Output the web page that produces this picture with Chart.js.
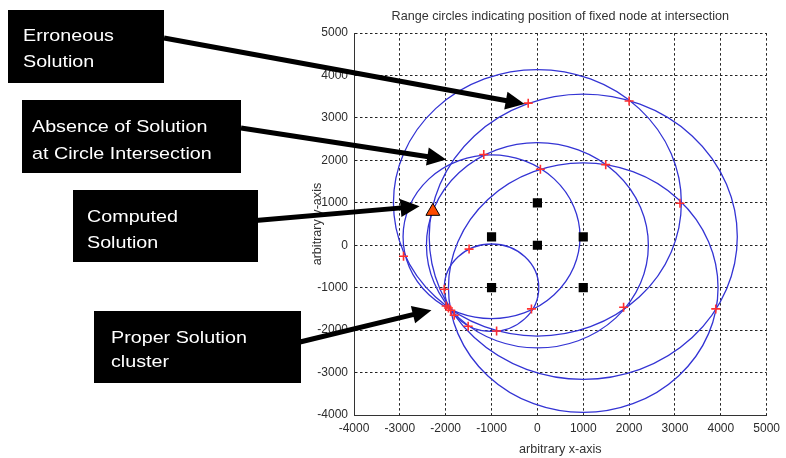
<!DOCTYPE html>
<html>
<head>
<meta charset="utf-8">
<script src="https://cdn.jsdelivr.net/npm/chart.js@4.4.1/dist/chart.umd.min.js"></script>
<style>
  html, body { margin: 0; padding: 0; background: #fff; }
</style>
</head>
<body>
<canvas id="chart" width="786" height="458"></canvas>
<script>
// fixed nodes (black squares) and the range measured from each of them
const anchorX = [0, -1000, 1000, 0, -1000, 1000];
const anchorY = [1000, 200, 200, 0, -1000, -1000];
const rangeR = [3140, 1930, 3360, 2420, 1030, 2940];

// circle intersections (red +)
const crossX = [-200, 2000, -1170, 65, 1490, 3110, -2920, -1490, -2030,
  -1990, -1940, -1890, -1815, -1510, -890, -130, 1880, 3890];
const crossY = [3350, 3400, 2140, 1790, 1900, 990, -260, -90, -1035,
  -1430, -1480, -1530, -1650, -1910, -2020, -1500, -1460, -1500];

// computed solution (orange triangle)
const solvedX = [-2280];
const solvedY = [800];

const tickValues = [-4000, -3000, -2000, -1000, 0, 1000, 2000, 3000, 4000, 5000];

// callouts: arrow tips are given in data units
const noteLines = [
  ['Erroneous', 'Solution'],
  ['Absence of Solution', 'at Circle Intersection'],
  ['Computed', 'Solution'],
  ['Proper Solution', 'cluster'],
];
const noteTipX = [-280, -1990, -2570, -2311];
const noteTipY = [3330, 2024, 918, -1529];

const noteLayout = [
  { box: [8, 10, 156, 73], text: [23, 41, 67], from: [164, 38] },
  { box: [22, 100, 219, 73], text: [32, 132, 159], from: [241, 128] },
  { box: [73, 190, 185, 72], text: [87, 222, 248], from: [250, 221] },
  { box: [94, 311, 207, 72], text: [111, 343, 367], from: [300, 342] },
];

const hasFont = (name) => {
  const c = document.createElement('canvas').getContext('2d');
  const probe = 'abcdefghij -0123456789';
  c.font = '20px monospace';
  const w0 = c.measureText(probe).width;
  c.font = `20px "${name}", monospace`;
  return c.measureText(probe).width !== w0;
};
const narrow = hasFont('Liberation Sans Narrow');
const axisFamily = narrow ? '"Liberation Sans Narrow", "Liberation Sans", sans-serif' : '"Liberation Sans", Arial, sans-serif';
const k = narrow ? 1 : 0.84;

const rangeCircles = {
  id: 'rangeCircles',
  beforeDatasetsDraw(chart) {
    const { ctx, chartArea, scales: { x, y } } = chart;
    ctx.save();
    ctx.beginPath();
    ctx.rect(chartArea.left, chartArea.top, chartArea.width, chartArea.height);
    ctx.clip();
    ctx.strokeStyle = '#3434d4';
    ctx.lineWidth = 1.3;
    anchorX.forEach((ax, i) => {
      const cx = x.getPixelForValue(ax);
      const cy = y.getPixelForValue(anchorY[i]);
      const rx = x.getPixelForValue(ax + rangeR[i]) - cx;
      const ry = cy - y.getPixelForValue(anchorY[i] + rangeR[i]);
      ctx.beginPath();
      ctx.ellipse(cx, cy, rx, ry, 0, 0, Math.PI * 2);
      ctx.stroke();
    });
    ctx.restore();
  },
};

const drawArrow = (ctx, x0, y0, x1, y1) => {
  const ang = Math.atan2(y1 - y0, x1 - x0);
  const head = 19;
  const half = 9;
  const bx = x1 - head * Math.cos(ang);
  const by = y1 - head * Math.sin(ang);
  ctx.lineWidth = 5;
  ctx.beginPath();
  ctx.moveTo(x0, y0);
  ctx.lineTo(bx + Math.cos(ang), by + Math.sin(ang));
  ctx.stroke();
  ctx.beginPath();
  ctx.moveTo(x1, y1);
  ctx.lineTo(bx + half * Math.sin(ang), by - half * Math.cos(ang));
  ctx.lineTo(bx - half * Math.sin(ang), by + half * Math.cos(ang));
  ctx.closePath();
  ctx.fill();
};

const callouts = {
  id: 'callouts',
  afterDraw(chart) {
    const { ctx, scales: { x, y } } = chart;
    ctx.save();
    ctx.strokeStyle = '#000';
    noteLayout.forEach((note, i) => {
      const [bx, by, bw, bh] = note.box;
      ctx.fillStyle = '#000';
      ctx.fillRect(bx, by, bw, bh);
      drawArrow(ctx, note.from[0], note.from[1],
        x.getPixelForValue(noteTipX[i]), y.getPixelForValue(noteTipY[i]));
      ctx.fillStyle = '#fff';
      ctx.font = '17px "Liberation Sans", Arial, sans-serif';
      ctx.textBaseline = 'alphabetic';
      noteLines[i].forEach((line, j) => {
        ctx.save();
        ctx.translate(note.text[0], note.text[j + 1]);
        ctx.scale(1.16, 1);
        ctx.fillText(line, 0, 0);
        ctx.restore();
      });
    });
    ctx.restore();
  },
};

const axisOptions = (title, fit) => ({
  type: 'linear',
  min: -4000,
  max: 5000,
  afterBuildTicks: (scale) => { scale.ticks = tickValues.map((v) => ({ value: v })); },
  afterFit: fit,
  grid: { color: '#222', lineWidth: 1, drawTicks: false },
  border: { display: true, color: '#333', width: 1, dash: [2.5, 2.5] },
  ticks: {
    color: '#2b2b2b',
    padding: 6,
    maxRotation: 0,
    autoSkip: false,
    font: { family: axisFamily, size: narrow ? 14 : 12 },
    callback: (v) => String(v),
  },
  title: {
    display: true,
    text: title,
    color: '#333',
    font: { family: axisFamily, size: 15 * k },
    padding: { top: 4, bottom: 1 },
  },
});

new Chart(document.getElementById('chart'), {
  type: 'scatter',
  data: {
    datasets: [
      {
        label: 'computed',
        data: solvedX.map((v, i) => ({ x: v, y: solvedY[i] })),
        pointStyle: 'triangle',
        pointRadius: 8,
        backgroundColor: '#ff4a00',
        borderColor: '#000',
        borderWidth: 1,
      },
      {
        label: 'anchors',
        data: anchorX.map((v, i) => ({ x: v, y: anchorY[i] })),
        pointStyle: 'rect',
        pointRadius: 6.5,
        backgroundColor: '#000',
        borderColor: '#000',
        borderWidth: 0,
      },
      {
        label: 'intersections',
        data: crossX.map((v, i) => ({ x: v, y: crossY[i] })),
        pointStyle: 'cross',
        pointRadius: 4.5,
        borderColor: '#ff3030',
        borderWidth: 1.6,
      },
    ],
  },
  options: {
    responsive: false,
    animation: false,
    events: [],
    layout: { padding: { left: 306, right: 16, top: 0, bottom: 0 } },
    scales: {
      x: axisOptions('arbitrary x-axis', (s) => { s.height = 43; }),
      y: axisOptions('arbitrary y-axis', (s) => { s.width = 48; }),
    },
    plugins: {
      legend: { display: false },
      tooltip: { enabled: false },
      title: {
        display: true,
        fullSize: false,
        text: 'Range circles indicating position of fixed node at intersection',
        color: '#333',
        font: { family: axisFamily, size: 15 * k, weight: 'normal' },
        padding: { top: 9, bottom: 9 },
      },
    },
  },
  plugins: [rangeCircles, callouts],
});
</script>
</body>
</html>
